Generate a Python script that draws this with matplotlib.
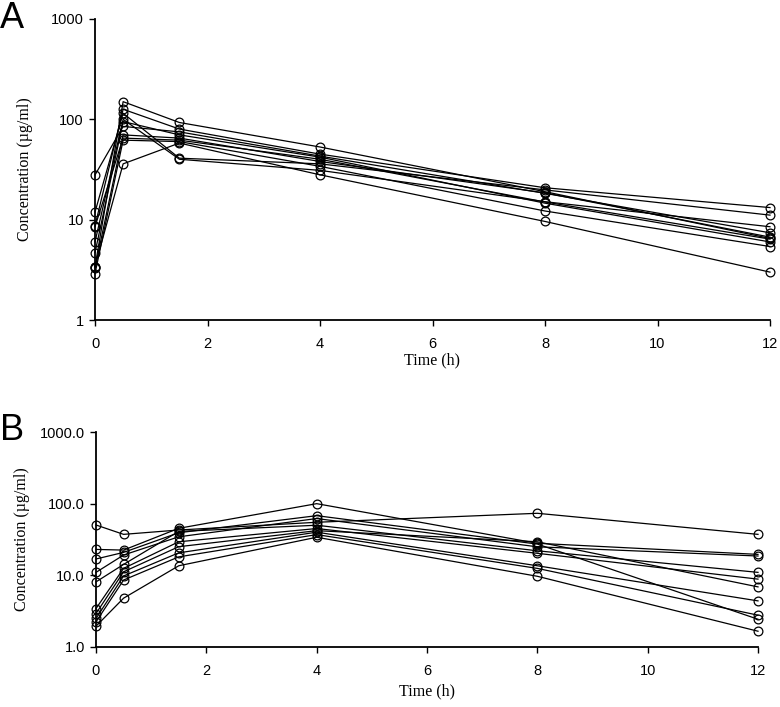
import matplotlib
matplotlib.use("Agg")
import matplotlib.pyplot as plt
from matplotlib.ticker import FixedLocator, FixedFormatter, NullLocator

# sampling times (h)
times = [0, 0.5, 1.5, 4, 8, 12]

# Panel A: concentrations per subject (ug/ml)
conc_a = [
    [3.4, 150, 93, 53, 19.0, 6.5],
    [8.7, 126, 80, 45, 20.8, 13.2],
    [11.9, 115, 41, 36, 19.8, 11.1],
    [6.0, 100, 40, 31, 15.1, 8.5],
    [27.9, 85, 75, 43, 18.3, 7.4],
    [4.7, 95, 70, 42, 14.6, 6.0],
    [3.3, 70, 65, 38, 18.5, 6.7],
    [8.5, 65, 62, 40, 15.0, 6.4],
    [2.9, 62, 60, 34, 12.2, 5.4],
    [3.4, 36, 58, 28, 9.6, 3.0],
]

# Panel B: concentrations per subject (ug/ml)
conc_b = [
    [50.4, 37.3, 42.9, 55, 73.4, 37.3],
    [23.0, 22.5, 45.3, 100, 28, 19.6],
    [16.9, 20.9, 39.3, 68, 27.3, 2.44],
    [11.0, 19.2, 34.5, 62, 25.0, 18.6],
    [8.1, 14.2, 41, 50, 22.0, 11.0],
    [3.44, 12.5, 29.4, 45, 20.3, 8.85],
    [2.93, 11.2, 25.1, 42, 29.4, 6.9],
    [2.50, 9.8, 20.6, 40, 13.6, 4.4],
    [2.24, 8.6, 18.1, 37, 12.5, 2.78],
    [1.95, 4.8, 13.6, 34, 9.7, 1.66],
]

xticks = [0, 2, 4, 6, 8, 10, 12]
yticks = [1, 10, 100, 1000]
ylabels_a = ["1", "10", "100", "1000"]
ylabels_b = ["1.0", "10.0", "100.0", "1000.0"]

W, H = 780, 707
fig = plt.figure(figsize=(7.8, 7.07), dpi=100)


def box(l, r, t, b):
    return [l / W, 1 - b / H, (r - l) / W, (b - t) / H]


ax_a = fig.add_axes(box(95, 770, 19, 320))
ax_b = fig.add_axes(box(96, 758, 432, 647))

sans = "Liberation Sans"
serif = "Liberation Serif"

panels = [(ax_a, conc_a, ylabels_a, 13, 1), (ax_b, conc_b, ylabels_b, 7, 4)]
for ax, data, ylabs, ylpad, xlpad in panels:
    for row in data:
        ax.plot(times, row, color="black", lw=0.9, marker="o", ms=6.3,
                mfc="none", mec="black", mew=0.9, clip_on=False)
    ax.set_yscale("log")
    ax.set_xlim(0, 12)
    ax.set_ylim(1, 1000)
    ax.yaxis.set_major_locator(FixedLocator(yticks))
    ax.yaxis.set_major_formatter(FixedFormatter(ylabs))
    ax.yaxis.set_minor_locator(NullLocator())
    ax.set_xticks(xticks)
    ax.set_xticklabels([str(t) for t in xticks])
    for s in ["top", "right"]:
        ax.spines[s].set_visible(False)
    for s in ["left", "bottom"]:
        ax.spines[s].set_linewidth(1.3)
    ax.tick_params(direction="out", length=4, width=1, labelsize=10.5)
    ax.tick_params(axis="x", pad=8)
    ax.tick_params(axis="y", pad=4)
    for lab in ax.get_xticklabels() + ax.get_yticklabels():
        lab.set_family(sans)
    ax.set_xlabel("Time (h)", family=serif, fontsize=11.5, labelpad=xlpad)
    ax.set_ylabel("Concentration (\u00b5g/ml)", family=serif, fontsize=11.5, labelpad=ylpad)

fig.text(0 / W, 1 - 18 / H, "A", family=sans, fontsize=26, va="center", ha="left")
fig.text(0 / W, 1 - 430 / H, "B", family=sans, fontsize=26, va="center", ha="left")

fig.savefig("out.png", dpi=100)
